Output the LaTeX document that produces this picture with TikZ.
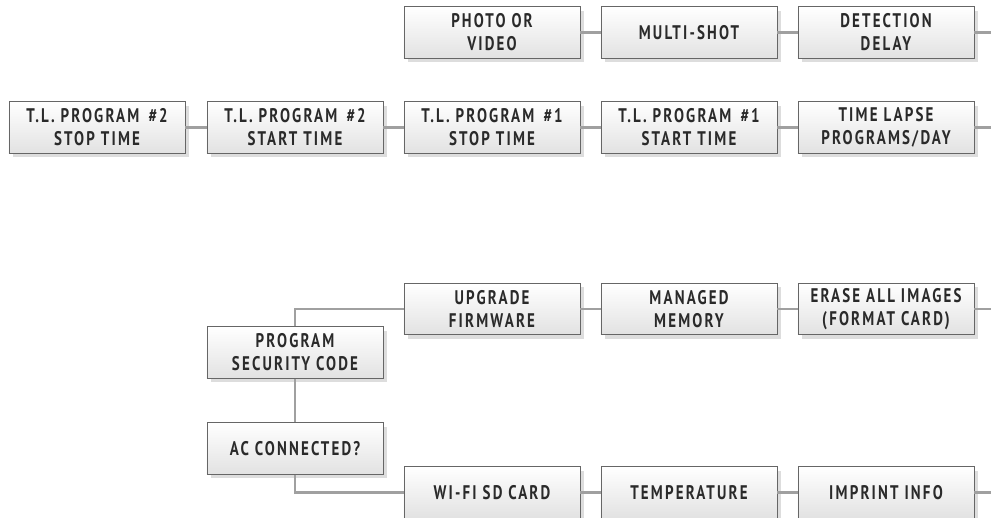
\documentclass[tikz,border=0pt]{standalone}
\usepackage{fontspec}
\usepackage{xcolor}
\usetikzlibrary{shadows,positioning}
\newfontfamily\menufont[FakeStretch=0.76,LetterSpace=11]{PT Sans}
\definecolor{boxline}{HTML}{666666}
\definecolor{boxfill}{HTML}{E2E2E2}
\definecolor{boxshade}{HTML}{DDDDDD}
\definecolor{linkgray}{HTML}{A0A0A0}
\definecolor{menuink}{HTML}{2A2A2A}
\tikzset{
  menubox/.style={draw=boxline,top color=white,bottom color=boxfill,
                  line width=0.6pt,minimum width=4.4cm,minimum height=1.28cm,
                  align=center,inner sep=2pt,text=menuink,
                  font=\menufont\bfseries\fontsize{14}{16.3}\selectfont,
                  drop shadow={shadow xshift=0.1cm,shadow yshift=-0.1cm,
                               fill=boxshade,opacity=1}},
  link/.style={draw=linkgray,line width=1.6pt}
}
\begin{document}
\begin{tikzpicture}[x=0.025cm,y=-0.025cm]
  \useasboundingbox (0,0) rectangle (991,518);
  % top row
  \node[menubox] (photo) at (492,32.5) {PHOTO OR\\VIDEO};
  \node[menubox] (multi) at (689,32.5) {MULTI-SHOT};
  \node[menubox] (delay) at (886,32.5) {DETECTION\\DELAY};
  \coordinate (topend) at (991,32.5);
  % time lapse row
  \node[menubox] (tlstop2) at (97,127.5) {T.L. PROGRAM \,\#2\\STOP TIME};
  \node[menubox] (tlstart2) at (295,127.5) {T.L. PROGRAM \,\#2\\START TIME};
  \node[menubox] (tlstop1) at (492,127.5) {T.L. PROGRAM \,\#1\\STOP TIME};
  \node[menubox] (tlstart1) at (689,127.5) {T.L. PROGRAM \,\#1\\START TIME};
  \node[menubox] (tlapse) at (886,127.5) {TIME LAPSE\\PROGRAMS/DAY};
  \coordinate (tlend) at (991,127.5);
  % security / firmware
  \node[menubox] (upgrade) at (492,309) {UPGRADE\\FIRMWARE};
  \node[menubox] (memory) at (689,309) {MANAGED\\MEMORY};
  \node[menubox] (erase) at (886,309) {ERASE ALL IMAGES\\(FORMAT CARD)};
  \coordinate (eraseend) at (991,309);
  \node[menubox] (security) at (295,352.5) {PROGRAM\\SECURITY CODE};
  \node[menubox] (acpower) at (295,448.5) {AC CONNECTED?};
  % bottom row
  \node[menubox] (wifi) at (492,492.5) {WI-FI SD CARD};
  \node[menubox] (temp) at (689,492.5) {TEMPERATURE};
  \node[menubox] (imprint) at (886,492.5) {IMPRINT INFO};
  \coordinate (imprintend) at (991,492.5);

  \draw[link] (photo) -- (multi);
  \draw[link] (multi) -- (delay);
  \draw[link] (delay) -- (topend);
  \draw[link] (tlstop2) -- (tlstart2);
  \draw[link] (tlstart2) -- (tlstop1);
  \draw[link] (tlstop1) -- (tlstart1);
  \draw[link] (tlstart1) -- (tlapse);
  \draw[link] (tlapse) -- (tlend);
  \draw[link] (security.north) |- (upgrade.west);
  \draw[link] (upgrade) -- (memory);
  \draw[link] (memory) -- (erase);
  \draw[link] (erase) -- (eraseend);
  \draw[link] (security) -- (acpower);
  \draw[link] (acpower.south) |- (wifi.west);
  \draw[link] (wifi) -- (temp);
  \draw[link] (temp) -- (imprint);
  \draw[link] (imprint) -- (imprintend);
\end{tikzpicture}
\end{document}
